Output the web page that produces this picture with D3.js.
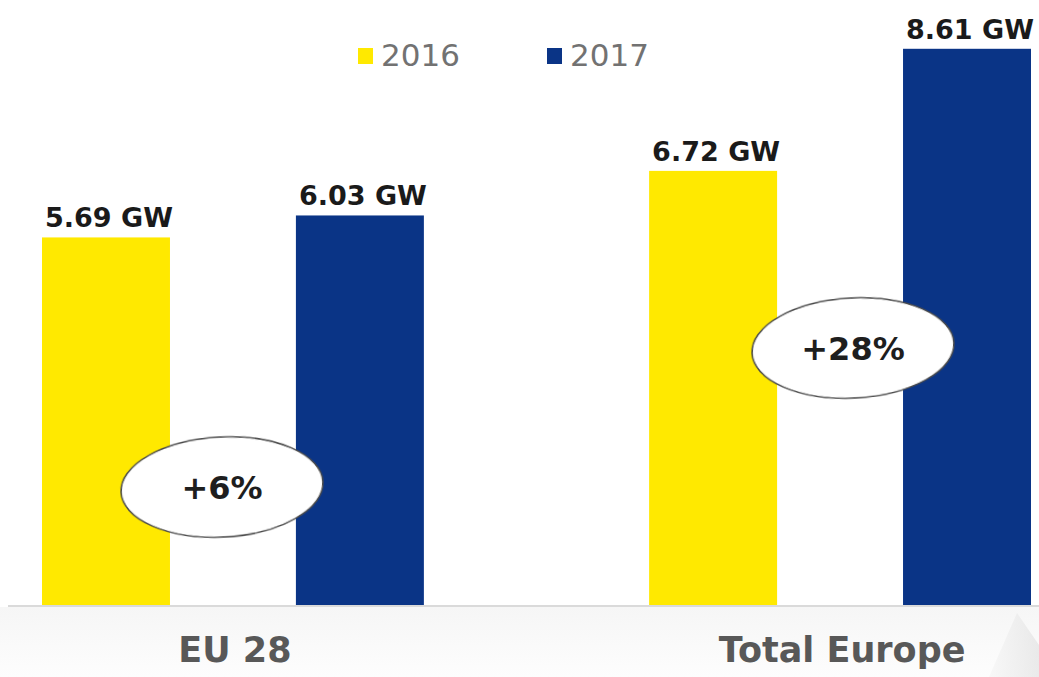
<!DOCTYPE html>
<html>
<head>
<meta charset="utf-8">
<script src="https://cdn.jsdelivr.net/npm/d3@7"></script>
<style>
  html, body { margin: 0; padding: 0; background: #ffffff; }
  svg { display: block; }
</style>
</head>
<body>
<div id="chart"></div>
<script>
// Installed PV capacity, 2016 vs 2017
const categories = ["EU 28", "Total Europe"];
const years = ["2016", "2017"];
const values2016 = [5.69, 6.72];
const values2017 = [6.03, 8.61];
const valueLabels2016 = ["5.69 GW", "6.72 GW"];
const valueLabels2017 = ["6.03 GW", "8.61 GW"];
const growthLabels = ["+6%", "+28%"];

const W = 1039, H = 677;
const colors = { "2016": "#ffe900", "2017": "#0a3486" };

const rows = categories.map((c, i) => ({
  category: c,
  growth: growthLabels[i],
  bars: [
    { year: "2016", value: values2016[i], label: valueLabels2016[i] },
    { year: "2017", value: values2017[i], label: valueLabels2017[i] }
  ]
}));

const svg = d3.select("#chart").append("svg")
  .attr("width", W).attr("height", H);

const defs = svg.append("defs");
const floorGrad = defs.append("linearGradient")
  .attr("id", "floor").attr("x1", 0).attr("y1", 0).attr("x2", 0).attr("y2", 1);
floorGrad.append("stop").attr("offset", "0%").attr("stop-color", "#f6f6f6");
floorGrad.append("stop").attr("offset", "100%").attr("stop-color", "#fdfdfd");
const cornerGrad = defs.append("linearGradient")
  .attr("id", "corner").attr("x1", 0).attr("y1", 0).attr("x2", 1).attr("y2", 0);
cornerGrad.append("stop").attr("offset", "0%").attr("stop-color", "#f6f6f6");
cornerGrad.append("stop").attr("offset", "100%").attr("stop-color", "#e2e2e2");
defs.append("filter").attr("id", "soft")
  .append("feGaussianBlur").attr("stdDeviation", 0.6);

const baseY = 605;
const pxPerGW = 64.6;

const x0 = d3.scaleBand().domain(categories).range([42, 1031])
  .paddingInner(0.371).paddingOuter(0);
const x1 = d3.scaleBand().domain(years).range([0, x0.bandwidth()])
  .paddingInner(0.496).paddingOuter(0);
const y = d3.scaleLinear().domain([0, 9]).range([baseY, baseY - 9 * pxPerGW]);

// floor below the baseline
svg.append("rect").attr("x", 0).attr("y", baseY + 2)
  .attr("width", W).attr("height", H - baseY - 2).attr("fill", "url(#floor)");
svg.append("path")
  .attr("d", `M${W - 50},${H} L${W - 22},${baseY + 8} L${W},${baseY + 40} L${W},${H} Z`)
  .attr("fill", "url(#corner)").attr("opacity", 0.7);

// baseline axis
const xAxis = d3.axisBottom(x0).tickSize(0).tickPadding(31);
const axisG = svg.append("g").attr("transform", `translate(0,${baseY + 1})`).call(xAxis);
axisG.select(".domain").remove();
axisG.append("line").attr("x1", 8).attr("x2", W).attr("y1", 0).attr("y2", 0)
  .attr("stroke", "#dadada").attr("stroke-width", 2);
axisG.selectAll(".tick text")
  .attr("font-family", "DejaVu Sans, Verdana, sans-serif")
  .attr("font-weight", "bold").attr("font-size", 35)
  .attr("fill", "#585858").attr("dy", "0.71em");
axisG.selectAll(".tick").attr("transform", d => `translate(${x0(d) + x0.bandwidth() / 2 + 2},0)`);

// bars
const groups = svg.selectAll("g.group").data(rows).join("g")
  .attr("class", "group")
  .attr("transform", d => `translate(${x0(d.category)},0)`);

groups.selectAll("rect.bar").data(d => d.bars).join("rect")
  .attr("class", "bar")
  .attr("x", d => x1(d.year))
  .attr("y", d => y(d.value))
  .attr("width", x1.bandwidth())
  .attr("height", d => y(0) - y(d.value))
  .attr("fill", d => colors[d.year]);

groups.selectAll("text.value").data(d => d.bars).join("text")
  .attr("class", "value")
  .attr("x", d => x1(d.year) + x1.bandwidth() / 2 + 3)
  .attr("y", d => y(d.value) - 10)
  .attr("text-anchor", "middle")
  .attr("font-family", "DejaVu Sans, Verdana, sans-serif")
  .attr("font-weight", "bold").attr("font-size", 27)
  .attr("fill", "#1a1a1a")
  .text(d => d.label);

// growth ellipses between the two bars of each group
const ellipseCenters = [{ cx: 222, cy: 487 }, { cx: 853, cy: 348 }];
const badges = svg.selectAll("g.badge").data(rows).join("g")
  .attr("class", "badge")
  .attr("transform", (d, i) => `translate(${ellipseCenters[i].cx},${ellipseCenters[i].cy}) rotate(-3)`);
badges.append("ellipse")
  .attr("rx", 101).attr("ry", 50)
  .attr("fill", "#ffffff").attr("stroke", "#4a4a4a").attr("stroke-width", 1.6)
  .attr("filter", "url(#soft)");
badges.append("text")
  .attr("text-anchor", "middle").attr("dy", "0.36em")
  .attr("transform", "rotate(3)")
  .attr("font-family", "DejaVu Sans, Verdana, sans-serif")
  .attr("font-weight", "bold").attr("font-size", 32)
  .attr("fill", "#1e1e1e")
  .text(d => d.growth);

// legend
const legendX = [358, 547];
const legend = svg.selectAll("g.legend").data(years).join("g")
  .attr("class", "legend")
  .attr("transform", (d, i) => `translate(${legendX[i]},0)`);
legend.append("rect")
  .attr("x", 0).attr("y", 48).attr("width", 15).attr("height", 16)
  .attr("fill", d => colors[d]);
legend.append("text")
  .attr("x", 23).attr("y", 66)
  .attr("font-family", "DejaVu Sans, Verdana, sans-serif")
  .attr("font-size", 31).attr("fill", "#727272")
  .text(d => d);
</script>
</body>
</html>
